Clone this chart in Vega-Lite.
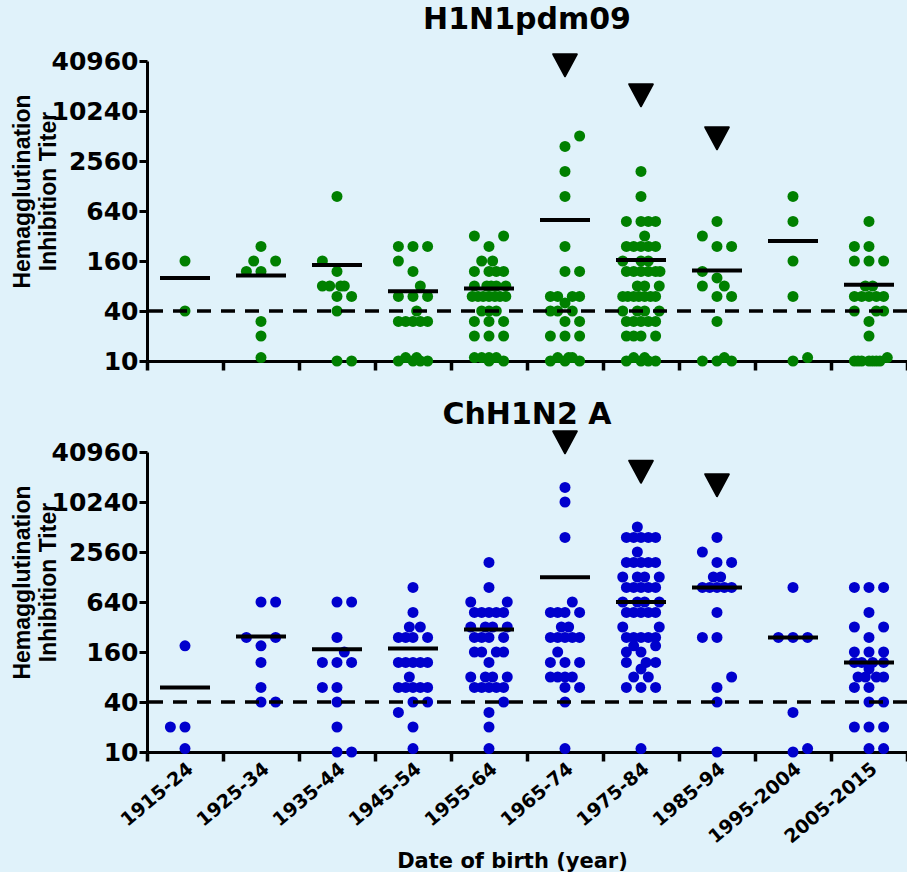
{
  "$schema": "https://vega.github.io/schema/vega-lite/v6.json",
  "background": "#E0F2FA",
  "padding": {"left": 10, "top": 5, "right": 0, "bottom": 0},
  "spacing": 26,
  "config": {
    "view": {"stroke": null},
    "font": "DejaVu Sans",
    "axis": {"domainColor": "black", "domainWidth": 3, "tickColor": "black", "tickWidth": 3, "tickSize": 8, "grid": false, "labelColor": "black", "labelFontWeight": "bold", "labelFont": "DejaVu Sans", "titleFont": "DejaVu Sans", "titleFontWeight": "bold", "titleColor": "black"},
    "title": {"font": "DejaVu Sans", "fontWeight": "bold", "fontSize": 30, "color": "black", "frame": "group", "anchor": "middle"}
  },
  "datasets": {
    "h1n1": [
      {"group": "1915-24", "titer": 160, "slot": 0}, {"group": "1915-24", "titer": 40, "slot": 0},
      {"group": "1925-34", "titer": 240, "slot": 0}, {"group": "1925-34", "titer": 160, "slot": -1}, {"group": "1925-34", "titer": 160, "slot": 2}, {"group": "1925-34", "titer": 120, "slot": -2}, {"group": "1925-34", "titer": 120, "slot": 0}, {"group": "1925-34", "titer": 30, "slot": 0}, {"group": "1925-34", "titer": 20, "slot": 0}, {"group": "1925-34", "titer": 11, "slot": 0},
      {"group": "1935-44", "titer": 960, "slot": 0}, {"group": "1935-44", "titer": 160, "slot": -2}, {"group": "1935-44", "titer": 120, "slot": 0}, {"group": "1935-44", "titer": 80, "slot": -2}, {"group": "1935-44", "titer": 80, "slot": -1}, {"group": "1935-44", "titer": 80, "slot": 0.5}, {"group": "1935-44", "titer": 80, "slot": 1}, {"group": "1935-44", "titer": 60, "slot": 0}, {"group": "1935-44", "titer": 60, "slot": 2}, {"group": "1935-44", "titer": 40, "slot": 0}, {"group": "1935-44", "titer": 10, "slot": 0}, {"group": "1935-44", "titer": 10, "slot": 2},
      {"group": "1945-54", "titer": 240, "slot": -2}, {"group": "1945-54", "titer": 240, "slot": 0}, {"group": "1945-54", "titer": 240, "slot": 2}, {"group": "1945-54", "titer": 160, "slot": -2}, {"group": "1945-54", "titer": 120, "slot": 0}, {"group": "1945-54", "titer": 80, "slot": 1}, {"group": "1945-54", "titer": 60, "slot": -2}, {"group": "1945-54", "titer": 60, "slot": 0}, {"group": "1945-54", "titer": 60, "slot": 2}, {"group": "1945-54", "titer": 40, "slot": 0.5}, {"group": "1945-54", "titer": 30, "slot": -2}, {"group": "1945-54", "titer": 30, "slot": -1}, {"group": "1945-54", "titer": 30, "slot": 0}, {"group": "1945-54", "titer": 30, "slot": 1}, {"group": "1945-54", "titer": 30, "slot": 2}, {"group": "1945-54", "titer": 10, "slot": -2}, {"group": "1945-54", "titer": 10, "slot": 0}, {"group": "1945-54", "titer": 10, "slot": 1}, {"group": "1945-54", "titer": 10, "slot": 2}, {"group": "1945-54", "titer": 11, "slot": -1}, {"group": "1945-54", "titer": 11, "slot": 0.5},
      {"group": "1955-64", "titer": 320, "slot": -2}, {"group": "1955-64", "titer": 320, "slot": 2}, {"group": "1955-64", "titer": 240, "slot": 0}, {"group": "1955-64", "titer": 160, "slot": -1}, {"group": "1955-64", "titer": 160, "slot": 0.5}, {"group": "1955-64", "titer": 120, "slot": -2}, {"group": "1955-64", "titer": 120, "slot": 0}, {"group": "1955-64", "titer": 120, "slot": 1}, {"group": "1955-64", "titer": 120, "slot": 2}, {"group": "1955-64", "titer": 80, "slot": -2}, {"group": "1955-64", "titer": 80, "slot": -0.3}, {"group": "1955-64", "titer": 80, "slot": 0.3}, {"group": "1955-64", "titer": 80, "slot": 1}, {"group": "1955-64", "titer": 80, "slot": 2.3}, {"group": "1955-64", "titer": 60, "slot": -2.3}, {"group": "1955-64", "titer": 60, "slot": -1.5}, {"group": "1955-64", "titer": 60, "slot": -0.8}, {"group": "1955-64", "titer": 60, "slot": 0}, {"group": "1955-64", "titer": 60, "slot": 0.8}, {"group": "1955-64", "titer": 60, "slot": 1.5}, {"group": "1955-64", "titer": 60, "slot": 2.3}, {"group": "1955-64", "titer": 40, "slot": -1}, {"group": "1955-64", "titer": 40, "slot": 0}, {"group": "1955-64", "titer": 40, "slot": 1}, {"group": "1955-64", "titer": 30, "slot": -2}, {"group": "1955-64", "titer": 30, "slot": 0}, {"group": "1955-64", "titer": 30, "slot": 2}, {"group": "1955-64", "titer": 20, "slot": -2}, {"group": "1955-64", "titer": 20, "slot": 0}, {"group": "1955-64", "titer": 20, "slot": 2}, {"group": "1955-64", "titer": 11, "slot": -2}, {"group": "1955-64", "titer": 11, "slot": -1}, {"group": "1955-64", "titer": 11, "slot": 0}, {"group": "1955-64", "titer": 11, "slot": 1}, {"group": "1955-64", "titer": 10, "slot": 0}, {"group": "1955-64", "titer": 10, "slot": 2},
      {"group": "1965-74", "titer": 5120, "slot": 2}, {"group": "1965-74", "titer": 3840, "slot": 0}, {"group": "1965-74", "titer": 1920, "slot": 0}, {"group": "1965-74", "titer": 960, "slot": 0}, {"group": "1965-74", "titer": 240, "slot": 0}, {"group": "1965-74", "titer": 120, "slot": 0}, {"group": "1965-74", "titer": 120, "slot": 2}, {"group": "1965-74", "titer": 60, "slot": -2}, {"group": "1965-74", "titer": 60, "slot": -1}, {"group": "1965-74", "titer": 60, "slot": 1}, {"group": "1965-74", "titer": 60, "slot": 2}, {"group": "1965-74", "titer": 50, "slot": 0}, {"group": "1965-74", "titer": 40, "slot": -2}, {"group": "1965-74", "titer": 40, "slot": -1}, {"group": "1965-74", "titer": 40, "slot": 1}, {"group": "1965-74", "titer": 30, "slot": 0}, {"group": "1965-74", "titer": 30, "slot": 2}, {"group": "1965-74", "titer": 20, "slot": -2}, {"group": "1965-74", "titer": 20, "slot": 0}, {"group": "1965-74", "titer": 20, "slot": 2}, {"group": "1965-74", "titer": 10, "slot": -2}, {"group": "1965-74", "titer": 10, "slot": 0}, {"group": "1965-74", "titer": 10, "slot": 2}, {"group": "1965-74", "titer": 11, "slot": -1}, {"group": "1965-74", "titer": 11, "slot": 0.5}, {"group": "1965-74", "titer": 11, "slot": 1},
      {"group": "1975-84", "titer": 1920, "slot": 0}, {"group": "1975-84", "titer": 960, "slot": 0}, {"group": "1975-84", "titer": 480, "slot": -2}, {"group": "1975-84", "titer": 480, "slot": 0}, {"group": "1975-84", "titer": 480, "slot": 1}, {"group": "1975-84", "titer": 480, "slot": 2}, {"group": "1975-84", "titer": 320, "slot": 0.5}, {"group": "1975-84", "titer": 240, "slot": -2}, {"group": "1975-84", "titer": 240, "slot": -1}, {"group": "1975-84", "titer": 240, "slot": 0}, {"group": "1975-84", "titer": 240, "slot": 1}, {"group": "1975-84", "titer": 240, "slot": 2}, {"group": "1975-84", "titer": 160, "slot": -2.5}, {"group": "1975-84", "titer": 160, "slot": 0}, {"group": "1975-84", "titer": 160, "slot": 1}, {"group": "1975-84", "titer": 120, "slot": -2}, {"group": "1975-84", "titer": 120, "slot": -1}, {"group": "1975-84", "titer": 120, "slot": 0}, {"group": "1975-84", "titer": 120, "slot": 1}, {"group": "1975-84", "titer": 120, "slot": 2}, {"group": "1975-84", "titer": 120, "slot": 2.6}, {"group": "1975-84", "titer": 80, "slot": -0.5}, {"group": "1975-84", "titer": 80, "slot": 0.5}, {"group": "1975-84", "titer": 80, "slot": 2.5}, {"group": "1975-84", "titer": 60, "slot": -2.5}, {"group": "1975-84", "titer": 60, "slot": -1.8}, {"group": "1975-84", "titer": 60, "slot": -1}, {"group": "1975-84", "titer": 60, "slot": -0.3}, {"group": "1975-84", "titer": 60, "slot": 0.5}, {"group": "1975-84", "titer": 60, "slot": 1.3}, {"group": "1975-84", "titer": 60, "slot": 2}, {"group": "1975-84", "titer": 40, "slot": -2.5}, {"group": "1975-84", "titer": 40, "slot": -0.5}, {"group": "1975-84", "titer": 40, "slot": 0.5}, {"group": "1975-84", "titer": 40, "slot": 2.5}, {"group": "1975-84", "titer": 30, "slot": -2}, {"group": "1975-84", "titer": 30, "slot": -1}, {"group": "1975-84", "titer": 30, "slot": 0}, {"group": "1975-84", "titer": 30, "slot": 1}, {"group": "1975-84", "titer": 30, "slot": 2}, {"group": "1975-84", "titer": 20, "slot": -2}, {"group": "1975-84", "titer": 20, "slot": -1}, {"group": "1975-84", "titer": 20, "slot": 0}, {"group": "1975-84", "titer": 20, "slot": 2}, {"group": "1975-84", "titer": 10, "slot": -2}, {"group": "1975-84", "titer": 10, "slot": 0}, {"group": "1975-84", "titer": 10, "slot": 1}, {"group": "1975-84", "titer": 10, "slot": 2}, {"group": "1975-84", "titer": 11, "slot": -1}, {"group": "1975-84", "titer": 11, "slot": 0.5},
      {"group": "1985-94", "titer": 480, "slot": 0}, {"group": "1985-94", "titer": 320, "slot": -2}, {"group": "1985-94", "titer": 240, "slot": 0}, {"group": "1985-94", "titer": 240, "slot": 2}, {"group": "1985-94", "titer": 120, "slot": -2}, {"group": "1985-94", "titer": 100, "slot": 0}, {"group": "1985-94", "titer": 80, "slot": -2}, {"group": "1985-94", "titer": 80, "slot": 1}, {"group": "1985-94", "titer": 60, "slot": 0}, {"group": "1985-94", "titer": 60, "slot": 2}, {"group": "1985-94", "titer": 30, "slot": 0}, {"group": "1985-94", "titer": 10, "slot": -2}, {"group": "1985-94", "titer": 10, "slot": 0}, {"group": "1985-94", "titer": 10, "slot": 2}, {"group": "1985-94", "titer": 11, "slot": 1},
      {"group": "1995-2004", "titer": 960, "slot": 0}, {"group": "1995-2004", "titer": 480, "slot": 0}, {"group": "1995-2004", "titer": 160, "slot": 0}, {"group": "1995-2004", "titer": 60, "slot": 0}, {"group": "1995-2004", "titer": 10, "slot": 0}, {"group": "1995-2004", "titer": 11, "slot": 2},
      {"group": "2005-2015", "titer": 480, "slot": 0}, {"group": "2005-2015", "titer": 240, "slot": -2}, {"group": "2005-2015", "titer": 240, "slot": 0}, {"group": "2005-2015", "titer": 160, "slot": -2}, {"group": "2005-2015", "titer": 160, "slot": 0}, {"group": "2005-2015", "titer": 160, "slot": 2}, {"group": "2005-2015", "titer": 80, "slot": -0.5}, {"group": "2005-2015", "titer": 80, "slot": 0.5}, {"group": "2005-2015", "titer": 60, "slot": -2}, {"group": "2005-2015", "titer": 60, "slot": -1}, {"group": "2005-2015", "titer": 60, "slot": 0}, {"group": "2005-2015", "titer": 60, "slot": 1}, {"group": "2005-2015", "titer": 60, "slot": 2}, {"group": "2005-2015", "titer": 40, "slot": -2}, {"group": "2005-2015", "titer": 40, "slot": 1}, {"group": "2005-2015", "titer": 40, "slot": 2}, {"group": "2005-2015", "titer": 30, "slot": 0}, {"group": "2005-2015", "titer": 20, "slot": 0}, {"group": "2005-2015", "titer": 10, "slot": -2}, {"group": "2005-2015", "titer": 10, "slot": -1.5}, {"group": "2005-2015", "titer": 10, "slot": -1}, {"group": "2005-2015", "titer": 10, "slot": 0}, {"group": "2005-2015", "titer": 10, "slot": 0.5}, {"group": "2005-2015", "titer": 10, "slot": 1}, {"group": "2005-2015", "titer": 10, "slot": 1.5}, {"group": "2005-2015", "titer": 11, "slot": 2.5}
    ],
    "chh1n2": [
      {"group": "1915-24", "titer": 190, "slot": 0}, {"group": "1915-24", "titer": 20, "slot": -2}, {"group": "1915-24", "titer": 20, "slot": 0}, {"group": "1915-24", "titer": 11, "slot": 0},
      {"group": "1925-34", "titer": 640, "slot": 0}, {"group": "1925-34", "titer": 640, "slot": 2}, {"group": "1925-34", "titer": 240, "slot": -2}, {"group": "1925-34", "titer": 240, "slot": 2}, {"group": "1925-34", "titer": 190, "slot": 0}, {"group": "1925-34", "titer": 120, "slot": 0}, {"group": "1925-34", "titer": 60, "slot": 0}, {"group": "1925-34", "titer": 40, "slot": 0}, {"group": "1925-34", "titer": 40, "slot": 2},
      {"group": "1935-44", "titer": 640, "slot": 0}, {"group": "1935-44", "titer": 640, "slot": 2}, {"group": "1935-44", "titer": 240, "slot": 0}, {"group": "1935-44", "titer": 160, "slot": 1}, {"group": "1935-44", "titer": 120, "slot": -2}, {"group": "1935-44", "titer": 120, "slot": 0}, {"group": "1935-44", "titer": 120, "slot": 2}, {"group": "1935-44", "titer": 60, "slot": -2}, {"group": "1935-44", "titer": 60, "slot": 0}, {"group": "1935-44", "titer": 40, "slot": 0}, {"group": "1935-44", "titer": 20, "slot": 0}, {"group": "1935-44", "titer": 10, "slot": 0}, {"group": "1935-44", "titer": 10, "slot": 2},
      {"group": "1945-54", "titer": 960, "slot": 0}, {"group": "1945-54", "titer": 480, "slot": 0}, {"group": "1945-54", "titer": 320, "slot": -0.5}, {"group": "1945-54", "titer": 320, "slot": 1}, {"group": "1945-54", "titer": 240, "slot": -2}, {"group": "1945-54", "titer": 240, "slot": -1}, {"group": "1945-54", "titer": 240, "slot": 0}, {"group": "1945-54", "titer": 240, "slot": 2}, {"group": "1945-54", "titer": 120, "slot": -2}, {"group": "1945-54", "titer": 120, "slot": -1}, {"group": "1945-54", "titer": 120, "slot": 0}, {"group": "1945-54", "titer": 120, "slot": 1}, {"group": "1945-54", "titer": 120, "slot": 2}, {"group": "1945-54", "titer": 80, "slot": -0.5}, {"group": "1945-54", "titer": 60, "slot": -2}, {"group": "1945-54", "titer": 60, "slot": -1}, {"group": "1945-54", "titer": 60, "slot": 0}, {"group": "1945-54", "titer": 60, "slot": 1}, {"group": "1945-54", "titer": 60, "slot": 2}, {"group": "1945-54", "titer": 40, "slot": 0}, {"group": "1945-54", "titer": 40, "slot": 2}, {"group": "1945-54", "titer": 30, "slot": -2}, {"group": "1945-54", "titer": 20, "slot": 0}, {"group": "1945-54", "titer": 11, "slot": 0},
      {"group": "1955-64", "titer": 1920, "slot": 0}, {"group": "1955-64", "titer": 960, "slot": 0}, {"group": "1955-64", "titer": 640, "slot": -2.5}, {"group": "1955-64", "titer": 640, "slot": 2.5}, {"group": "1955-64", "titer": 480, "slot": -2}, {"group": "1955-64", "titer": 480, "slot": -1}, {"group": "1955-64", "titer": 480, "slot": 0}, {"group": "1955-64", "titer": 480, "slot": 1}, {"group": "1955-64", "titer": 480, "slot": 2}, {"group": "1955-64", "titer": 320, "slot": -2.5}, {"group": "1955-64", "titer": 320, "slot": -0.5}, {"group": "1955-64", "titer": 320, "slot": 0.5}, {"group": "1955-64", "titer": 320, "slot": 2.5}, {"group": "1955-64", "titer": 240, "slot": -2}, {"group": "1955-64", "titer": 240, "slot": -1}, {"group": "1955-64", "titer": 240, "slot": 0}, {"group": "1955-64", "titer": 240, "slot": 2}, {"group": "1955-64", "titer": 160, "slot": -2}, {"group": "1955-64", "titer": 160, "slot": -1}, {"group": "1955-64", "titer": 160, "slot": 1}, {"group": "1955-64", "titer": 160, "slot": 2}, {"group": "1955-64", "titer": 120, "slot": 0}, {"group": "1955-64", "titer": 80, "slot": -2.5}, {"group": "1955-64", "titer": 80, "slot": -0.5}, {"group": "1955-64", "titer": 80, "slot": 0.5}, {"group": "1955-64", "titer": 80, "slot": 2.5}, {"group": "1955-64", "titer": 60, "slot": -2}, {"group": "1955-64", "titer": 60, "slot": -1}, {"group": "1955-64", "titer": 60, "slot": 0}, {"group": "1955-64", "titer": 60, "slot": 1}, {"group": "1955-64", "titer": 60, "slot": 2}, {"group": "1955-64", "titer": 40, "slot": 2}, {"group": "1955-64", "titer": 30, "slot": 0}, {"group": "1955-64", "titer": 20, "slot": 0}, {"group": "1955-64", "titer": 11, "slot": 0},
      {"group": "1965-74", "titer": 15360, "slot": 0}, {"group": "1965-74", "titer": 10240, "slot": 0}, {"group": "1965-74", "titer": 3840, "slot": 0}, {"group": "1965-74", "titer": 640, "slot": 1}, {"group": "1965-74", "titer": 480, "slot": -2}, {"group": "1965-74", "titer": 480, "slot": -1}, {"group": "1965-74", "titer": 480, "slot": 0}, {"group": "1965-74", "titer": 480, "slot": 2}, {"group": "1965-74", "titer": 320, "slot": -0.5}, {"group": "1965-74", "titer": 320, "slot": 0.5}, {"group": "1965-74", "titer": 240, "slot": -2}, {"group": "1965-74", "titer": 240, "slot": -1}, {"group": "1965-74", "titer": 240, "slot": 0}, {"group": "1965-74", "titer": 240, "slot": 1}, {"group": "1965-74", "titer": 240, "slot": 2}, {"group": "1965-74", "titer": 160, "slot": -1}, {"group": "1965-74", "titer": 120, "slot": -2}, {"group": "1965-74", "titer": 120, "slot": 0}, {"group": "1965-74", "titer": 120, "slot": 2}, {"group": "1965-74", "titer": 80, "slot": -2}, {"group": "1965-74", "titer": 80, "slot": -1}, {"group": "1965-74", "titer": 80, "slot": 0}, {"group": "1965-74", "titer": 80, "slot": 1}, {"group": "1965-74", "titer": 60, "slot": 0}, {"group": "1965-74", "titer": 60, "slot": 2}, {"group": "1965-74", "titer": 40, "slot": 0}, {"group": "1965-74", "titer": 11, "slot": 0},
      {"group": "1975-84", "titer": 5120, "slot": -0.5}, {"group": "1975-84", "titer": 3840, "slot": -2}, {"group": "1975-84", "titer": 3840, "slot": -1}, {"group": "1975-84", "titer": 3840, "slot": 0}, {"group": "1975-84", "titer": 3840, "slot": 1}, {"group": "1975-84", "titer": 3840, "slot": 2}, {"group": "1975-84", "titer": 2560, "slot": -0.5}, {"group": "1975-84", "titer": 1920, "slot": -2}, {"group": "1975-84", "titer": 1920, "slot": -1}, {"group": "1975-84", "titer": 1920, "slot": 0}, {"group": "1975-84", "titer": 1920, "slot": 1}, {"group": "1975-84", "titer": 1920, "slot": 2}, {"group": "1975-84", "titer": 1280, "slot": -2.5}, {"group": "1975-84", "titer": 1280, "slot": -0.5}, {"group": "1975-84", "titer": 1280, "slot": 0.5}, {"group": "1975-84", "titer": 1280, "slot": 2.5}, {"group": "1975-84", "titer": 960, "slot": -2}, {"group": "1975-84", "titer": 960, "slot": -1}, {"group": "1975-84", "titer": 960, "slot": 0}, {"group": "1975-84", "titer": 960, "slot": 1}, {"group": "1975-84", "titer": 960, "slot": 2}, {"group": "1975-84", "titer": 640, "slot": -2.5}, {"group": "1975-84", "titer": 640, "slot": -0.5}, {"group": "1975-84", "titer": 640, "slot": 0.5}, {"group": "1975-84", "titer": 640, "slot": 2.5}, {"group": "1975-84", "titer": 480, "slot": -2}, {"group": "1975-84", "titer": 480, "slot": -1}, {"group": "1975-84", "titer": 480, "slot": 0}, {"group": "1975-84", "titer": 480, "slot": 1}, {"group": "1975-84", "titer": 480, "slot": 2}, {"group": "1975-84", "titer": 320, "slot": -2.5}, {"group": "1975-84", "titer": 320, "slot": 2.5}, {"group": "1975-84", "titer": 240, "slot": -2}, {"group": "1975-84", "titer": 240, "slot": -1}, {"group": "1975-84", "titer": 240, "slot": 0}, {"group": "1975-84", "titer": 240, "slot": 1}, {"group": "1975-84", "titer": 240, "slot": 2}, {"group": "1975-84", "titer": 190, "slot": -1}, {"group": "1975-84", "titer": 190, "slot": 2}, {"group": "1975-84", "titer": 160, "slot": -2}, {"group": "1975-84", "titer": 160, "slot": 0}, {"group": "1975-84", "titer": 120, "slot": -2}, {"group": "1975-84", "titer": 120, "slot": 0.7}, {"group": "1975-84", "titer": 120, "slot": 2}, {"group": "1975-84", "titer": 100, "slot": 0}, {"group": "1975-84", "titer": 80, "slot": -1}, {"group": "1975-84", "titer": 80, "slot": 1}, {"group": "1975-84", "titer": 60, "slot": -2}, {"group": "1975-84", "titer": 60, "slot": 0}, {"group": "1975-84", "titer": 60, "slot": 2}, {"group": "1975-84", "titer": 11, "slot": 0},
      {"group": "1985-94", "titer": 3840, "slot": 0}, {"group": "1985-94", "titer": 2560, "slot": -2}, {"group": "1985-94", "titer": 1920, "slot": 0}, {"group": "1985-94", "titer": 1920, "slot": 2}, {"group": "1985-94", "titer": 1280, "slot": -0.5}, {"group": "1985-94", "titer": 1280, "slot": 0.5}, {"group": "1985-94", "titer": 960, "slot": -2}, {"group": "1985-94", "titer": 960, "slot": -1}, {"group": "1985-94", "titer": 960, "slot": 0}, {"group": "1985-94", "titer": 960, "slot": 1}, {"group": "1985-94", "titer": 960, "slot": 2}, {"group": "1985-94", "titer": 480, "slot": 0}, {"group": "1985-94", "titer": 240, "slot": -2}, {"group": "1985-94", "titer": 240, "slot": 0}, {"group": "1985-94", "titer": 80, "slot": 2}, {"group": "1985-94", "titer": 60, "slot": 0}, {"group": "1985-94", "titer": 40, "slot": 0}, {"group": "1985-94", "titer": 10, "slot": 0},
      {"group": "1995-2004", "titer": 960, "slot": 0}, {"group": "1995-2004", "titer": 240, "slot": -2}, {"group": "1995-2004", "titer": 240, "slot": 0}, {"group": "1995-2004", "titer": 240, "slot": 2}, {"group": "1995-2004", "titer": 30, "slot": 0}, {"group": "1995-2004", "titer": 10, "slot": 0}, {"group": "1995-2004", "titer": 11, "slot": 2},
      {"group": "2005-2015", "titer": 960, "slot": -2}, {"group": "2005-2015", "titer": 960, "slot": 0}, {"group": "2005-2015", "titer": 960, "slot": 2}, {"group": "2005-2015", "titer": 480, "slot": 0}, {"group": "2005-2015", "titer": 320, "slot": -2}, {"group": "2005-2015", "titer": 320, "slot": 2}, {"group": "2005-2015", "titer": 240, "slot": 0}, {"group": "2005-2015", "titer": 160, "slot": -2}, {"group": "2005-2015", "titer": 160, "slot": 0}, {"group": "2005-2015", "titer": 160, "slot": 2}, {"group": "2005-2015", "titer": 120, "slot": -2}, {"group": "2005-2015", "titer": 120, "slot": -1}, {"group": "2005-2015", "titer": 120, "slot": 0.5}, {"group": "2005-2015", "titer": 120, "slot": 2}, {"group": "2005-2015", "titer": 100, "slot": 0}, {"group": "2005-2015", "titer": 80, "slot": -1.5}, {"group": "2005-2015", "titer": 80, "slot": -0.5}, {"group": "2005-2015", "titer": 80, "slot": 1}, {"group": "2005-2015", "titer": 80, "slot": 2}, {"group": "2005-2015", "titer": 60, "slot": -2}, {"group": "2005-2015", "titer": 60, "slot": 0}, {"group": "2005-2015", "titer": 40, "slot": 0}, {"group": "2005-2015", "titer": 40, "slot": 2}, {"group": "2005-2015", "titer": 20, "slot": -2}, {"group": "2005-2015", "titer": 20, "slot": 0}, {"group": "2005-2015", "titer": 20, "slot": 2}, {"group": "2005-2015", "titer": 11, "slot": 0}, {"group": "2005-2015", "titer": 11, "slot": 2}
    ],
    "h1n1_mean": [
      {"group": "1915-24", "mean": 100}, {"group": "1925-34", "mean": 107}, {"group": "1935-44", "mean": 143}, {"group": "1945-54", "mean": 69}, {"group": "1955-64", "mean": 74.5}, {"group": "1965-74", "mean": 499}, {"group": "1975-84", "mean": 165}, {"group": "1985-94", "mean": 123}, {"group": "1995-2004", "mean": 279}, {"group": "2005-2015", "mean": 83}
    ],
    "chh1n2_mean": [
      {"group": "1915-24", "mean": 60}, {"group": "1925-34", "mean": 246}, {"group": "1935-44", "mean": 173}, {"group": "1945-54", "mean": 176}, {"group": "1955-64", "mean": 298}, {"group": "1965-74", "mean": 1270}, {"group": "1975-84", "mean": 640}, {"group": "1985-94", "mean": 960}, {"group": "1995-2004", "mean": 240}, {"group": "2005-2015", "mean": 120}
    ],
    "h1n1_flag": [
      {"group": "1965-74", "titer": 36400}, {"group": "1975-84", "titer": 15850}, {"group": "1985-94", "titer": 4810}
    ],
    "chh1n2_flag": [
      {"group": "1965-74", "titer": 53600}, {"group": "1975-84", "titer": 23700}, {"group": "1985-94", "titer": 16300}
    ]
  },
  "vconcat": [
    {
      "width": 760,
      "height": 300,
      "title": {"text": "H1N1pdm09", "offset": 14},
      "layer": [
        {
          "data": {"name": "h1n1"},
          "mark": {"type": "circle", "size": 121, "opacity": 1, "color": "#008000"},
          "encoding": {
            "x": {"field": "group", "type": "nominal", "scale": {"domain": ["1915-24", "1925-34", "1935-44", "1945-54", "1955-64", "1965-74", "1975-84", "1985-94", "1995-2004", "2005-2015"], "paddingInner": 0, "paddingOuter": 0}, "axis": {"labels": false, "title": null, "tickBand": "extent", "tickSize": 9, "tickWidth": 3.5}},
            "xOffset": {"field": "slot", "type": "quantitative", "scale": {"domain": [-5.2, 5.2], "range": [0, 76]}},
            "y": {"field": "titer", "type": "quantitative", "scale": {"type": "log", "base": 2, "domain": [10, 40960], "nice": false}, "axis": {"values": [10, 40, 160, 640, 2560, 10240, 40960], "format": "d", "labelFontSize": 25, "labelPadding": 1, "title": ["Hemagglutination", "Inhibition Titer"], "titleFont": "Liberation Sans", "titleFontSize": 23, "titleLineHeight": 26, "titleAngle": 270, "titleAlign": "center", "titleBaseline": "middle", "titleX": -125, "titleY": 130}}
          }
        },
        {
          "data": {"values": [{"threshold": 40}]},
          "mark": {"type": "rule", "strokeDash": [14, 10], "strokeWidth": 3.5, "color": "black"},
          "encoding": {"y": {"field": "threshold", "type": "quantitative"}}
        },
        {
          "data": {"name": "h1n1_mean"},
          "mark": {"type": "tick", "orient": "horizontal", "size": 50, "thickness": 4, "color": "black", "opacity": 1},
          "encoding": {"x": {"field": "group", "type": "nominal"}, "y": {"field": "mean", "type": "quantitative"}}
        },
        {
          "data": {"name": "h1n1_flag"},
          "mark": {"type": "point", "shape": "M-1,-0.93L1,-0.93L0,0.93Z", "filled": true, "size": 560, "color": "black", "opacity": 1, "stroke": "black", "strokeWidth": 2, "strokeJoin": "round"},
          "encoding": {"x": {"field": "group", "type": "nominal"}, "y": {"field": "titer", "type": "quantitative"}}
        }
      ]
    },
    {
      "width": 760,
      "height": 300,
      "title": {"text": "ChH1N2 A", "offset": 0},
      "layer": [
        {
          "data": {"name": "chh1n2"},
          "mark": {"type": "circle", "size": 121, "opacity": 1, "color": "#0000CD"},
          "encoding": {
            "x": {"field": "group", "type": "nominal", "scale": {"domain": ["1915-24", "1925-34", "1935-44", "1945-54", "1955-64", "1965-74", "1975-84", "1985-94", "1995-2004", "2005-2015"], "paddingInner": 0, "paddingOuter": 0}, "axis": {"title": "Date of birth (year)", "tickBand": "extent", "tickSize": 9, "tickWidth": 3.5, "labelAngle": -40, "labelAlign": "right", "labelBaseline": "middle", "labelFontSize": 19, "labelPadding": 5, "labelOffset": 5, "titleFontSize": 21, "titlePadding": 4, "titleX": 365}},
            "xOffset": {"field": "slot", "type": "quantitative", "scale": {"domain": [-5.2, 5.2], "range": [0, 76]}},
            "y": {"field": "titer", "type": "quantitative", "scale": {"type": "log", "base": 2, "domain": [10, 40960], "nice": false}, "axis": {"values": [10, 40, 160, 640, 2560, 10240, 40960], "format": "d", "labelFontSize": 25, "labelPadding": 1, "title": ["Hemagglutination", "Inhibition Titer"], "titleFont": "Liberation Sans", "titleFontSize": 23, "titleLineHeight": 26, "titleAngle": 270, "titleAlign": "center", "titleBaseline": "middle", "titleX": -125, "titleY": 130}}
          }
        },
        {
          "data": {"values": [{"threshold": 40}]},
          "mark": {"type": "rule", "strokeDash": [14, 10], "strokeWidth": 3.5, "color": "black"},
          "encoding": {"y": {"field": "threshold", "type": "quantitative"}}
        },
        {
          "data": {"name": "chh1n2_mean"},
          "mark": {"type": "tick", "orient": "horizontal", "size": 50, "thickness": 4, "color": "black", "opacity": 1},
          "encoding": {"x": {"field": "group", "type": "nominal"}, "y": {"field": "mean", "type": "quantitative"}}
        },
        {
          "data": {"name": "chh1n2_flag"},
          "mark": {"type": "point", "shape": "M-1,-0.93L1,-0.93L0,0.93Z", "filled": true, "size": 560, "color": "black", "opacity": 1, "stroke": "black", "strokeWidth": 2, "strokeJoin": "round"},
          "encoding": {"x": {"field": "group", "type": "nominal"}, "y": {"field": "titer", "type": "quantitative"}}
        }
      ]
    }
  ]
}
